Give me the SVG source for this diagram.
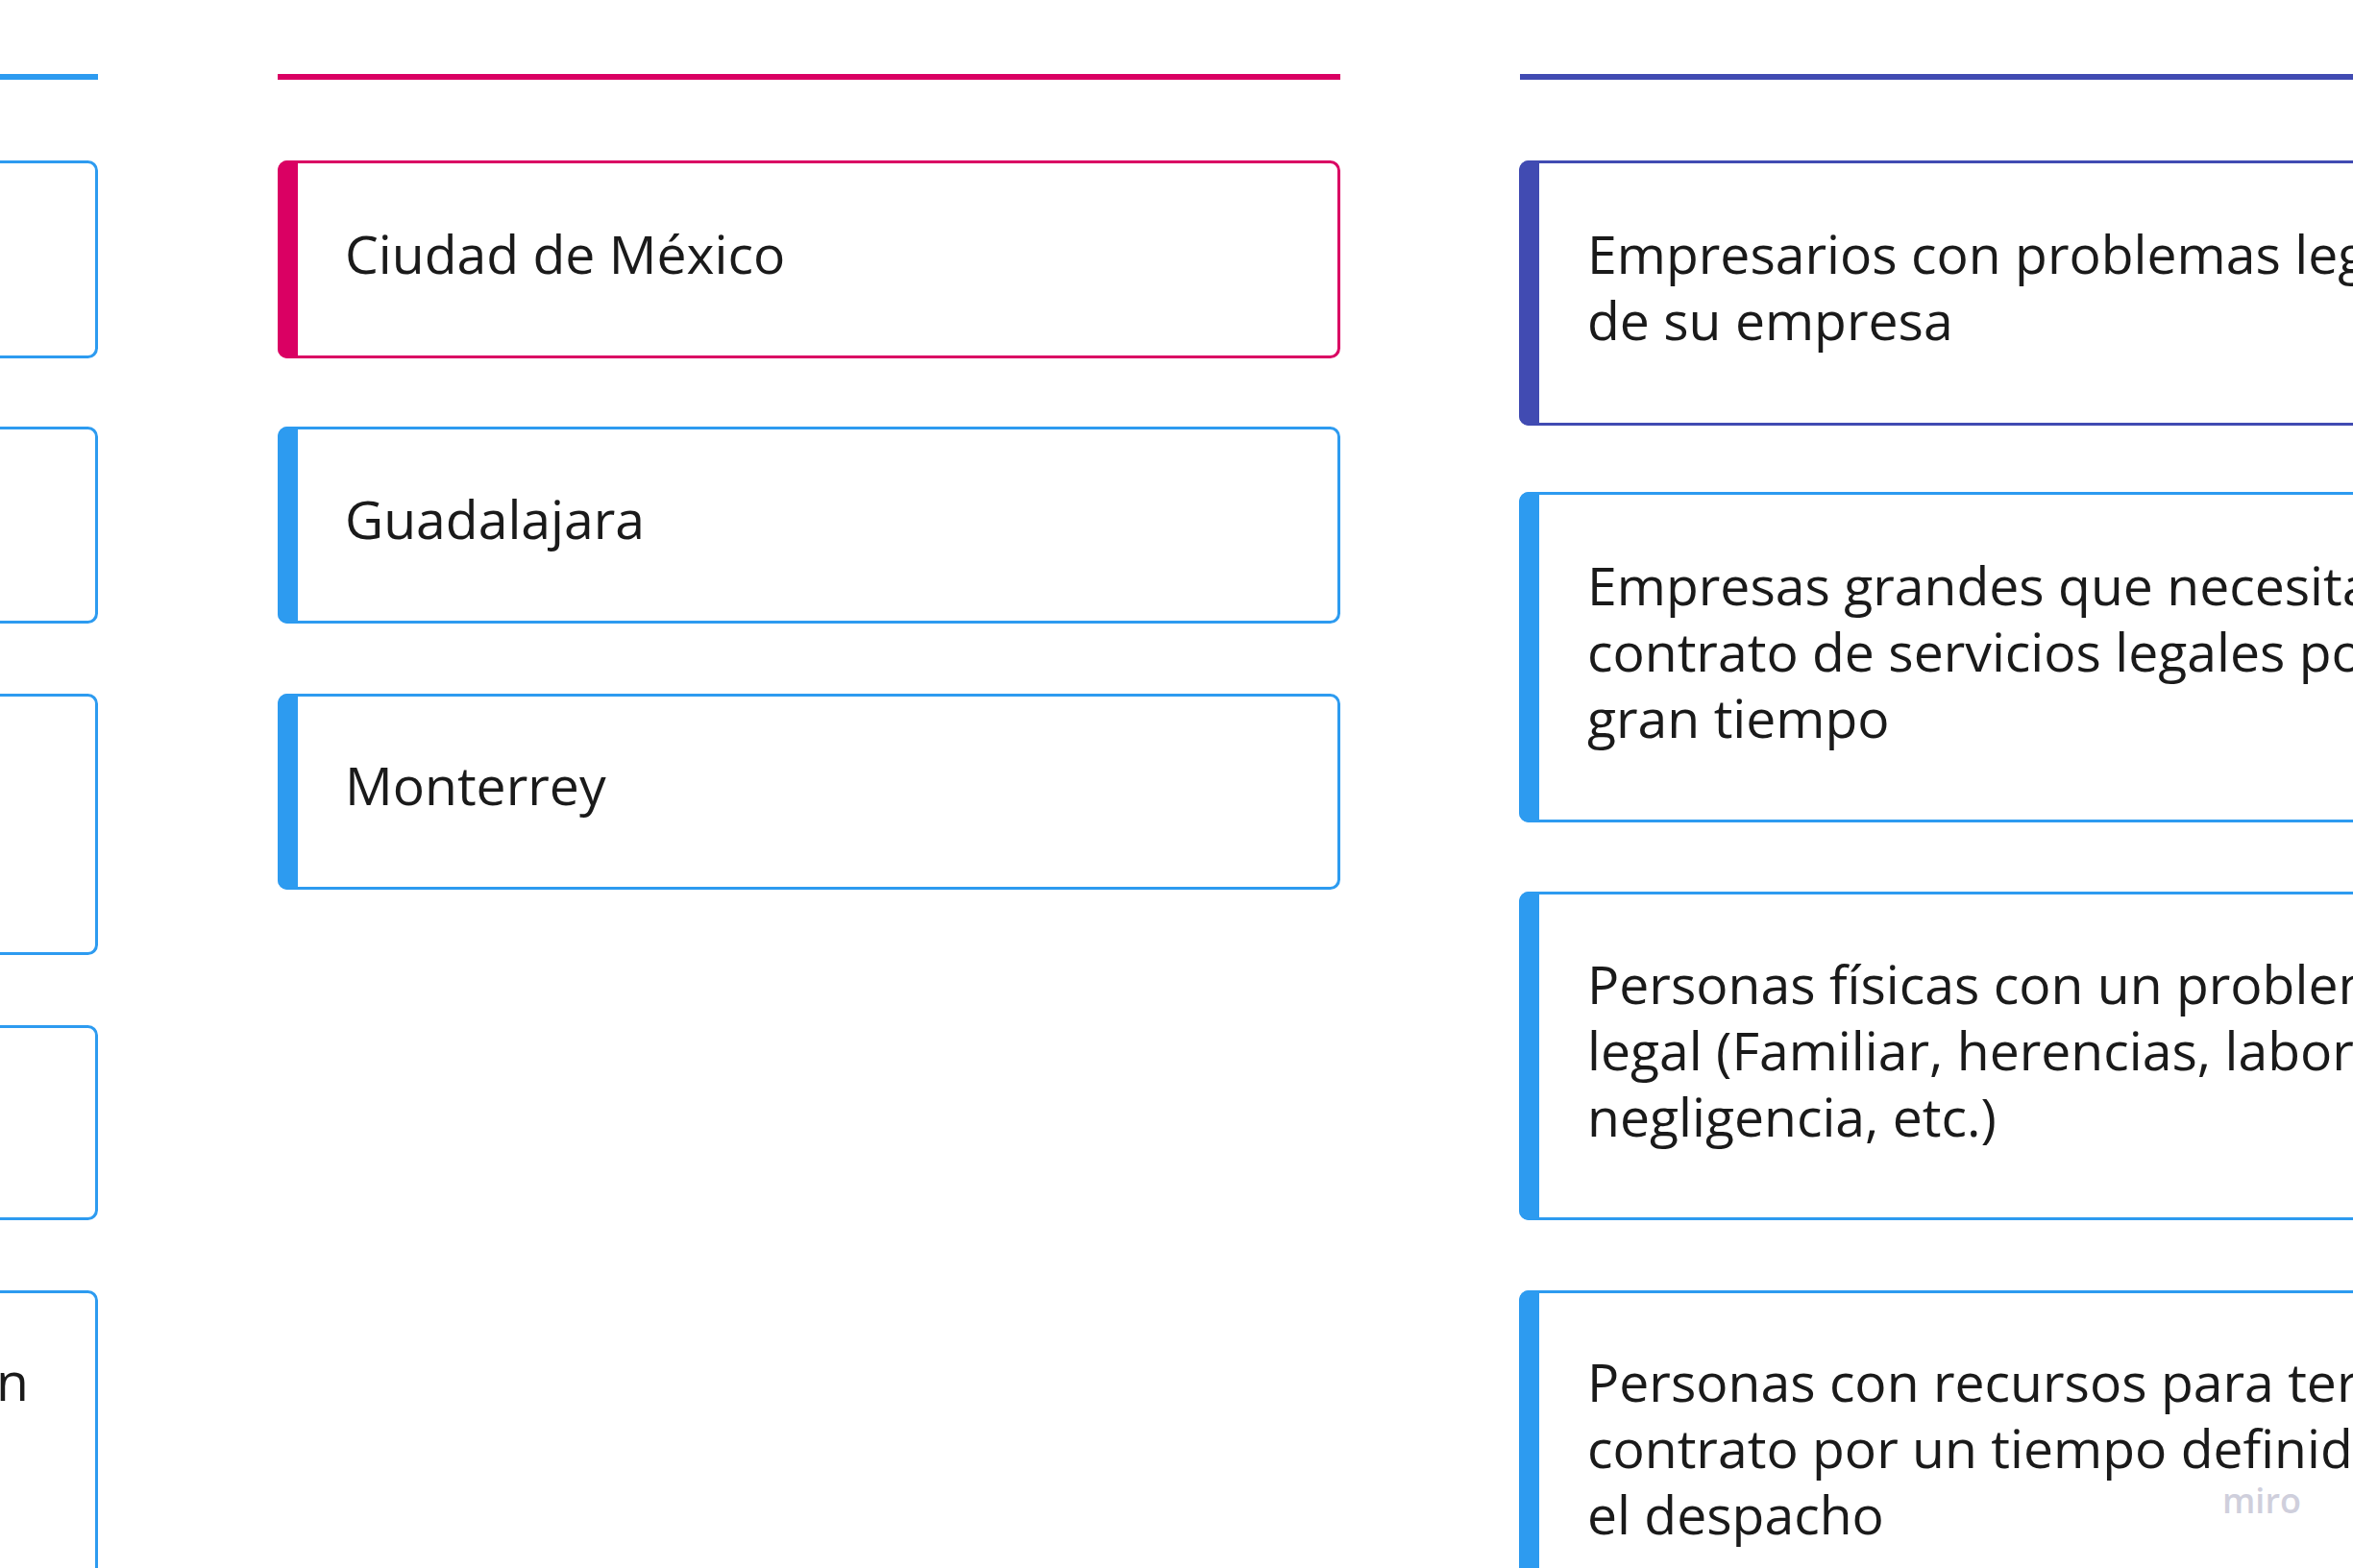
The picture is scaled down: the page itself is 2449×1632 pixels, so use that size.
<svg xmlns="http://www.w3.org/2000/svg" width="2449" height="1632" viewBox="0 0 2449 1632">
<style>
  .box { fill: #ffffff; stroke-width: 3; }
  .blue { stroke: #2d9bf0; }
  .pink { stroke: #da0063; }
  .indigo { stroke: #414bb2; }
  .barblue { fill: #2d9bf0; }
  .barpink { fill: #da0063; }
  .barindigo { fill: #414bb2; }
  .t { font-family: "Open Sans", "Noto Sans", "Liberation Sans", sans-serif; font-size: 55.3px; fill: #1a1a1a; }
  .wm { font-family: "Open Sans", "Liberation Sans", sans-serif; font-size: 36px; font-weight: 600; fill: #cfcfdc; }
</style>
<rect width="2449" height="1632" fill="#ffffff"/>

<g id="headers">
  <rect x="0" y="77" width="102" height="6" fill="#2d9bf0"/>
  <rect x="289" y="77" width="1106" height="6" fill="#da0063"/>
  <rect x="1582" y="77" width="867" height="6" fill="#414bb2"/>
</g>

<!-- Left column (partially visible) -->
<g id="left-1">
  <rect class="box blue" x="-100" y="168.5" width="200.5" height="203" rx="9"/>
</g>
<g id="left-2">
  <rect class="box blue" x="-100" y="445.5" width="200.5" height="202" rx="9"/>
</g>
<g id="left-3">
  <rect class="box blue" x="-100" y="723.5" width="200.5" height="269" rx="9"/>
</g>
<g id="left-4">
  <rect class="box blue" x="-100" y="1068.5" width="200.5" height="200" rx="9"/>
</g>
<g id="left-5">
  <rect class="box blue" x="-100" y="1344.5" width="200.5" height="400" rx="9"/>
  <text class="t" x="-4" y="1458">n</text>
</g>

<!-- Middle column -->
<g id="mid-1">
  <rect class="box pink" x="290.5" y="168.5" width="1103" height="203" rx="9"/>
  <path class="barpink" d="M310,167 H299 A10,10 0 0 0 289,177 V363 A10,10 0 0 0 299,373 H310 Z"/>
  <text class="t" x="359" y="285">Ciudad de México</text>
</g>
<g id="mid-2">
  <rect class="box blue" x="290.5" y="445.5" width="1103" height="202" rx="9"/>
  <path class="barblue" d="M310,444 H299 A10,10 0 0 0 289,454 V639 A10,10 0 0 0 299,649 H310 Z"/>
  <text class="t" x="359" y="561">Guadalajara</text>
</g>
<g id="mid-3">
  <rect class="box blue" x="290.5" y="723.5" width="1103" height="201" rx="9"/>
  <path class="barblue" d="M310,722 H299 A10,10 0 0 0 289,732 V916 A10,10 0 0 0 299,926 H310 Z"/>
  <text class="t" x="359" y="838">Monterrey</text>
</g>

<!-- Right column -->
<g id="right-1">
  <rect class="box indigo" x="1582.5" y="168.5" width="1000" height="273" rx="9"/>
  <path class="barindigo" d="M1602,167 H1591 A10,10 0 0 0 1581,177 V433 A10,10 0 0 0 1591,443 H1602 Z"/>
  <text class="t" x="1652" y="285">Empresarios con problemas leg</text>
  <text class="t" x="1652" y="354">de su empresa</text>
</g>
<g id="right-2">
  <rect class="box blue" x="1582.5" y="513.5" width="1000" height="341" rx="9"/>
  <path class="barblue" d="M1602,512 H1591 A10,10 0 0 0 1581,522 V846 A10,10 0 0 0 1591,856 H1602 Z"/>
  <text class="t" x="1652" y="630">Empresas grandes que necesita</text>
  <text class="t" x="1652" y="699">contrato de servicios legales po</text>
  <text class="t" x="1652" y="768">gran tiempo</text>
</g>
<g id="right-3">
  <rect class="box blue" x="1582.5" y="929.5" width="1000" height="339" rx="9"/>
  <path class="barblue" d="M1602,928 H1591 A10,10 0 0 0 1581,938 V1260 A10,10 0 0 0 1591,1270 H1602 Z"/>
  <text class="t" x="1652" y="1045">Personas físicas con un problem</text>
  <text class="t" x="1652" y="1114">legal (Familiar, herencias, labor</text>
  <text class="t" x="1652" y="1183">negligencia, etc.)</text>
</g>
<g id="right-4">
  <rect class="box blue" x="1582.5" y="1344.5" width="1000" height="400" rx="9"/>
  <path class="barblue" d="M1602,1343 H1591 A10,10 0 0 0 1581,1353 V1700 H1602 Z"/>
  <text class="t" x="1652" y="1459">Personas con recursos para ter</text>
  <text class="t" x="1652" y="1528">contrato por un tiempo definid</text>
  <text class="t" x="1652" y="1597">el despacho</text>
</g>

<g id="connectors"></g>

<text class="wm" x="2313" y="1575">miro</text>
</svg>
